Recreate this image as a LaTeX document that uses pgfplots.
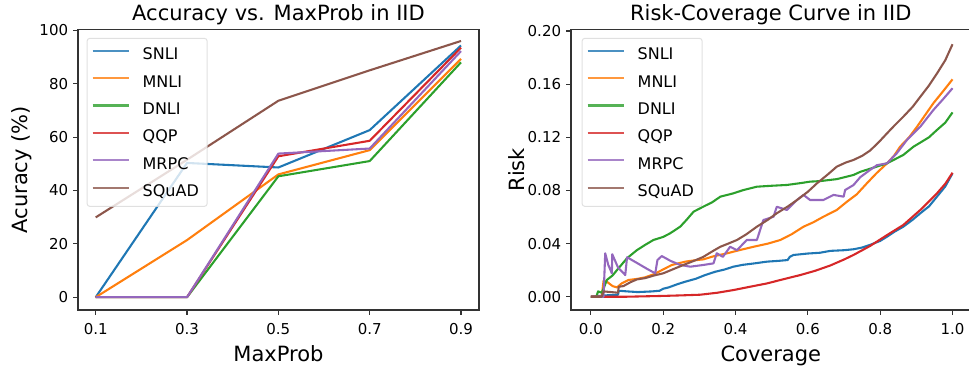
\documentclass[border=0pt]{standalone}
\usepackage{fontspec}
\setmainfont{DejaVu Sans}
\usepackage{pgfplots}
\pgfplotsset{compat=1.18}
\definecolor{c0}{HTML}{1F77B4}
\definecolor{c1}{HTML}{FF7F0E}
\definecolor{c2}{HTML}{2CA02C}
\definecolor{c3}{HTML}{D62728}
\definecolor{c4}{HTML}{9467BD}
\definecolor{c5}{HTML}{8C564B}
\pgfplotsset{
  myax/.style={
    scale only axis, height=280.5pt,
    axis line style={black!80, line width=1.1pt},
    tick align=outside, major tick length=4.9pt,
    every tick/.style={black!80, line width=1.1pt},
    tick pos=left,
    ticklabel style={font=\fontsize{15}{18}\selectfont, inner sep=0pt},
    xticklabel style={yshift=-8pt},
    yticklabel style={xshift=-4.8pt},
    /pgf/number format/assume math mode=true,
    title style={font=\fontsize{21}{25}\selectfont, at={(axis description cs:0.5,1)}, anchor=base, yshift=2.5pt, inner sep=0pt},
    label style={font=\fontsize{21}{25}\selectfont},
    xlabel style={at={(axis description cs:0.5,0)}, anchor=base, yshift=-51pt, inner sep=0pt},
    legend cell align=left,
    legend style={anchor=north west, draw=black!15, line width=1pt, rounded corners=2.5pt,
      fill=white, fill opacity=0.8, draw opacity=0.8, text opacity=1,
      font=\fontsize{16}{19}\selectfont, inner xsep=4.4pt, inner ysep=9.6pt, row sep=15.7pt,
      nodes={inner sep=0pt, text height=11.7pt, text depth=0pt, text width=60pt},
      /tikz/every odd column/.append style={column sep=13pt}},
    legend image code/.code={\draw[#1, line width=2.08pt] (0pt,3.15pt) -- (36pt,3.15pt);},
    every axis plot/.append style={line width=2.08pt, no markers, line join=round},
  }
}
\begin{document}
\begin{tikzpicture}
\useasboundingbox (0,0) rectangle (969pt,372pt);
\begin{axis}[myax, at={(78pt,62pt)}, anchor=south west, width=401pt,
  xmin=0.0612, xmax=0.9394, ymin=-4.8, ymax=100.3,
  xtick={0.1,0.3,0.5,0.7,0.9}, ytick={0,20,40,60,80,100},
  xticklabel style={/pgf/number format/.cd, fixed, fixed zerofill, precision=1},
  title={Accuracy vs. MaxProb in IID},
  xlabel={MaxProb}, ylabel={Acuracy (\%)},
  ylabel style={at={(axis description cs:-0.1247,0.5)}, anchor=base, inner sep=0pt},
  legend style={at={(axis description cs:0.0217,0.97)}},
]
\addplot[c0] coordinates {(0.1,0) (0.3,50.3) (0.5,48.6) (0.7,62.6) (0.9,94.3)};
\addplot[c1] coordinates {(0.1,0) (0.3,21.4) (0.5,46) (0.7,55.1) (0.9,89.3)};
\addplot[c2] coordinates {(0.1,0) (0.3,0) (0.5,45.3) (0.7,51) (0.9,88)};
\addplot[c3] coordinates {(0.1,0) (0.3,0) (0.5,52.8) (0.7,58.6) (0.9,93.5)};
\addplot[c4] coordinates {(0.1,0) (0.3,0) (0.5,53.8) (0.7,55.7) (0.9,92.2)};
\addplot[c5] coordinates {(0.1,29.9) (0.3,51.5) (0.5,73.6) (0.7,85) (0.9,96)};
\legend{SNLI,MNLI,DNLI,QQP,MRPC,SQuAD}
\end{axis}
\begin{axis}[myax, at={(571pt,62pt)}, anchor=south west, width=399.6pt,
  xmin=-0.055, xmax=1.05, ymin=-0.0100, ymax=0.2011,
  xtick={0,0.2,0.4,0.6,0.8,1.0}, ytick={0,0.04,0.08,0.12,0.16,0.20},
  xticklabel style={/pgf/number format/.cd, fixed, fixed zerofill, precision=1},
  yticklabel style={/pgf/number format/.cd, fixed, fixed zerofill, precision=2},
  title={Risk-Coverage Curve in IID},
  xlabel={Coverage}, ylabel={Risk},
  ylabel style={at={(axis description cs:-0.1152,0.5)}, anchor=base, inner sep=0pt},
  legend style={at={(axis description cs:0.0268,0.97)}},
]
\addplot[c0] coordinates {(0,0) (0.04,0.001) (0.075,0.0015) (0.077,0.0045) (0.10,0.004) (0.13,0.0035) (0.17,0.004) (0.19,0.0045) (0.20,0.006) (0.215,0.007) (0.24,0.0095) (0.261,0.0113) (0.29,0.0135) (0.316,0.0163) (0.344,0.0188) (0.37,0.0205) (0.394,0.0226) (0.42,0.024) (0.45,0.025) (0.487,0.0264) (0.52,0.027) (0.544,0.0276) (0.55,0.030) (0.56,0.0314) (0.60,0.0325) (0.634,0.0331) (0.662,0.0345) (0.70,0.035) (0.726,0.0357) (0.75,0.037) (0.772,0.039) (0.80,0.042) (0.819,0.0452) (0.84,0.049) (0.864,0.0527) (0.89,0.058) (0.911,0.0628) (0.935,0.068) (0.957,0.0753) (0.98,0.083) (1.0,0.0928)};
\addplot[c1] coordinates {(0,0) (0.03,0) (0.035,0.012) (0.044,0.0113) (0.06,0.008) (0.072,0.007) (0.085,0.01) (0.104,0.0126) (0.13,0.0135) (0.15,0.0146) (0.175,0.017) (0.196,0.020) (0.224,0.0239) (0.261,0.0264) (0.29,0.0275) (0.311,0.0281) (0.34,0.0305) (0.376,0.0326) (0.41,0.035) (0.45,0.0376) (0.49,0.040) (0.524,0.0427) (0.555,0.047) (0.588,0.0527) (0.615,0.056) (0.643,0.0602) (0.68,0.0653) (0.708,0.0715) (0.735,0.077) (0.763,0.0853) (0.79,0.093) (0.819,0.1004) (0.838,0.106) (0.855,0.1129) (0.88,0.12) (0.902,0.128) (0.925,0.137) (0.947,0.1456) (0.975,0.155) (1.0,0.1636)};
\addplot[c2] coordinates {(0,0) (0.015,0) (0.02,0.004) (0.03,0.003) (0.035,0.006) (0.044,0.0126) (0.06,0.016) (0.072,0.020) (0.1,0.029) (0.127,0.035) (0.15,0.039) (0.173,0.0427) (0.2,0.045) (0.219,0.0477) (0.247,0.0527) (0.265,0.058) (0.284,0.064) (0.311,0.0678) (0.335,0.071) (0.358,0.0753) (0.394,0.0778) (0.422,0.0803) (0.459,0.0828) (0.5,0.0835) (0.542,0.0841) (0.58,0.0855) (0.606,0.0866) (0.634,0.087) (0.68,0.0885) (0.726,0.0916) (0.745,0.094) (0.78,0.097) (0.819,0.1004) (0.864,0.1067) (0.892,0.1129) (0.911,0.116) (0.935,0.12) (0.957,0.1255) (0.98,0.131) (1.0,0.1387)};
\addplot[c3] coordinates {(0,0) (0.1,0) (0.15,0.0003) (0.2,0.0006) (0.25,0.001) (0.302,0.0015) (0.35,0.003) (0.394,0.005) (0.44,0.0075) (0.487,0.010) (0.53,0.013) (0.579,0.0163) (0.62,0.0195) (0.662,0.0235) (0.70,0.028) (0.726,0.0314) (0.772,0.0382) (0.819,0.0464) (0.864,0.054) (0.911,0.0653) (0.957,0.0778) (0.98,0.085) (1.0,0.0933)};
\addplot[c4] coordinates {(0,0) (0.035,0) (0.0396,0.0327) (0.048,0.024) (0.058,0.0176) (0.059,0.032) (0.075,0.022) (0.095,0.0163) (0.1,0.0297) (0.13,0.025) (0.155,0.021) (0.178,0.0176) (0.184,0.0276) (0.196,0.0306) (0.22,0.027) (0.247,0.0239) (0.275,0.0226) (0.311,0.0239) (0.339,0.0251) (0.348,0.0327) (0.365,0.030) (0.385,0.0376) (0.404,0.035) (0.431,0.0427) (0.459,0.0427) (0.477,0.0577) (0.505,0.0602) (0.514,0.0677) (0.542,0.0653) (0.57,0.0728) (0.588,0.0766) (0.606,0.0728) (0.643,0.0728) (0.671,0.0766) (0.699,0.0753) (0.703,0.0803) (0.726,0.084) (0.745,0.090) (0.772,0.0954) (0.791,0.099) (0.819,0.1004) (0.846,0.108) (0.874,0.118) (0.911,0.128) (0.947,0.1405) (0.975,0.149) (1.0,0.1569)};
\addplot[c5] coordinates {(0,0) (0.03,0) (0.035,0.004) (0.075,0.003) (0.077,0.0075) (0.09,0.008) (0.11,0.011) (0.127,0.013) (0.15,0.014) (0.175,0.016) (0.2,0.0176) (0.23,0.021) (0.256,0.0239) (0.285,0.027) (0.311,0.030) (0.335,0.034) (0.358,0.0376) (0.38,0.040) (0.404,0.0427) (0.43,0.047) (0.459,0.0527) (0.49,0.058) (0.514,0.0628) (0.545,0.068) (0.57,0.0728) (0.6,0.079) (0.625,0.0853) (0.655,0.092) (0.68,0.0979) (0.705,0.101) (0.726,0.1029) (0.75,0.106) (0.772,0.110) (0.795,0.116) (0.819,0.123) (0.84,0.129) (0.864,0.1355) (0.89,0.143) (0.911,0.1505) (0.935,0.159) (0.957,0.168) (0.98,0.178) (1.0,0.190)};
\legend{SNLI,MNLI,DNLI,QQP,MRPC,SQuAD}
\end{axis}
\end{tikzpicture}
\end{document}
